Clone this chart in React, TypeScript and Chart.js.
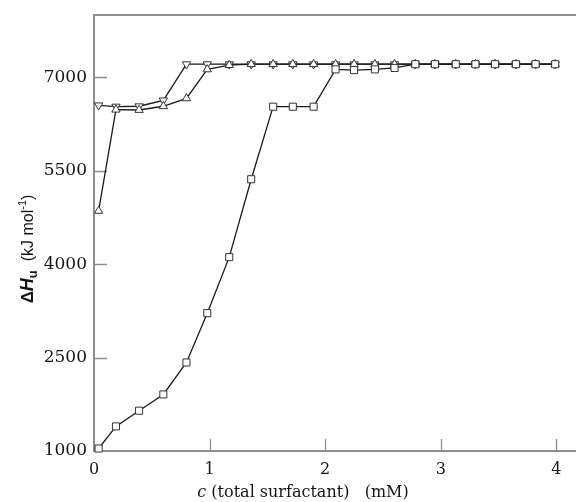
import React, { useEffect, useRef } from 'react';
import { Chart, registerables } from 'chart.js';

Chart.register(...registerables);

// concentration c (mM)
const cValues = [0.04, 0.19, 0.39, 0.6, 0.8, 0.98, 1.17, 1.36, 1.55, 1.72, 1.9, 2.09, 2.25, 2.43, 2.6, 2.78, 2.95, 3.13, 3.3, 3.47, 3.65, 3.82, 3.99];
// ΔHu (kJ/mol)
const squareValues = [1040, 1395, 1647, 1908, 2421, 3213, 4112, 5363, 6528, 6528, 6528, 7127, 7115, 7127, 7150, 7210, 7210, 7210, 7210, 7210, 7210, 7210, 7210];
const triUpValues = [4855, 6480, 6475, 6535, 6662, 7127, 7195, 7210, 7210, 7210, 7210, 7210, 7210, 7210, 7210, 7210, 7210, 7210, 7210, 7210, 7210, 7210, 7210];
const triDownValues = [6550, 6530, 6535, 6630, 7210, 7210, 7210, 7210, 7210, 7210, 7210, 7210, 7210, 7210, 7210, 7210, 7210, 7210, 7210, 7210, 7210, 7210, 7210];

const xTicks = [0, 1, 2, 3, 4];
const yTicks = [1000, 2500, 4000, 5500, 7000];

const frameColor = '#8e8e8e';
const lineColor = '#1a1a1a';
const textColor = '#151515';
const serif = '"DejaVu Serif", serif';
const sans = '"Liberation Sans", Arial, sans-serif';

const toPoints = (ys: number[]) => ys.map((y, i) => ({ x: cValues[i], y }));

const framePlugin = {
  id: 'frame',
  beforeDatasetsDraw(chart: any) {
    const { ctx, chartArea, scales } = chart;
    const { left, right, top, bottom } = chartArea;
    ctx.save();
    ctx.strokeStyle = frameColor;
    ctx.lineWidth = 2;
    ctx.beginPath();
    ctx.moveTo(right, top);
    ctx.lineTo(left, top);
    ctx.lineTo(left, bottom);
    ctx.lineTo(right, bottom);
    ctx.stroke();
    ctx.lineWidth = 1.3;
    ctx.beginPath();
    for (const v of yTicks) {
      const py = Math.round(scales.y.getPixelForValue(v)) + 0.5;
      if (Math.abs(py - bottom) < 2) continue;
      ctx.moveTo(left, py);
      ctx.lineTo(left + 13, py);
    }
    for (const v of xTicks) {
      const px = Math.round(scales.x.getPixelForValue(v)) + 0.5;
      if (Math.abs(px - left) < 2) continue;
      ctx.moveTo(px, bottom);
      ctx.lineTo(px, bottom - 12);
    }
    ctx.stroke();
    ctx.restore();
  },
  afterDraw(chart: any) {
    const { ctx, chartArea } = chart;
    ctx.save();
    ctx.fillStyle = textColor;
    ctx.textBaseline = 'alphabetic';
    ctx.textAlign = 'left';
    // x title
    const xSegs = [
      { t: 'c', f: `italic 16px ${serif}` },
      { t: ' (total surfactant)   (mM)', f: `16px ${serif}` },
    ];
    let w = 0;
    for (const s of xSegs) { ctx.font = s.f; w += ctx.measureText(s.t).width; }
    let x = chartArea.left + 209 - w / 2;
    for (const s of xSegs) { ctx.font = s.f; ctx.fillText(s.t, x, 497); x += ctx.measureText(s.t).width; }

    // y title (rotated)
    const ySegs = [
      { t: 'Δ', f: `bold 17px ${sans}`, dy: 0 },
      { t: 'H', f: `bold italic 18px ${sans}`, dy: 0 },
      { t: 'u', f: `bold 13px ${sans}`, dy: 4 },
      { t: '  (kJ mol', f: `16px ${sans}`, dy: 0 },
      { t: '-1', f: `11px ${sans}`, dy: -7 },
      { t: ')', f: `16px ${sans}`, dy: 0 },
    ];
    let tw = 0;
    for (const s of ySegs) { ctx.font = s.f; tw += ctx.measureText(s.t).width; }
    ctx.translate(33, 249);
    ctx.rotate(-Math.PI / 2);
    let px = -tw / 2;
    for (const s of ySegs) { ctx.font = s.f; ctx.fillText(s.t, px, s.dy); px += ctx.measureText(s.t).width; }
    ctx.restore();
  },
};

export default function App() {
  const canvasRef = useRef<HTMLCanvasElement | null>(null);

  useEffect(() => {
    if (!canvasRef.current) return;
    const mk = (label: string, ys: number[], style: string, rotation: number, radius: number) => ({
      label,
      data: toPoints(ys),
      borderColor: lineColor,
      borderWidth: 1.3,
      pointStyle: style,
      rotation,
      pointRadius: radius,
      pointBorderWidth: 1,
      pointBackgroundColor: '#ffffff',
      pointBorderColor: '#333333',
      showLine: true,
      tension: 0,
      clip: false,
    });
    const chart = new Chart(canvasRef.current, {
      type: 'scatter',
      data: {
        datasets: [
          mk('square', squareValues, 'rect', 0, 5),
          mk('triangle up', triUpValues, 'triangle', 0, 4.8),
          mk('triangle down', triDownValues, 'triangle', 180, 4.8),
        ] as any,
      },
      options: {
        animation: false,
        responsive: false,
        layout: { autoPadding: false, padding: { top: 15, left: 0, right: 0, bottom: 0 } },
        plugins: { legend: { display: false }, tooltip: { enabled: false }, title: { display: false } },
        scales: {
          x: {
            type: 'linear',
            min: 0,
            max: 4.17,
            grid: { display: false, drawTicks: false },
            border: { display: false },
            afterBuildTicks: (s: any) => { s.ticks = xTicks.map((v) => ({ value: v })); },
            afterFit: (s: any) => { s.height = 51; s.paddingLeft = 0; s.paddingRight = 0; },
            ticks: { color: textColor, font: { family: serif, size: 16 }, padding: 9, maxRotation: 0, autoSkip: false, callback: (v: any) => String(v) },
          },
          y: {
            type: 'linear',
            min: 1000,
            max: 8000,
            grid: { display: false, drawTicks: false },
            border: { display: false },
            afterBuildTicks: (s: any) => { s.ticks = yTicks.map((v) => ({ value: v })); },
            afterFit: (s: any) => { s.width = 94; s.paddingTop = 0; s.paddingBottom = 0; },
            ticks: { color: textColor, font: { family: serif, size: 17 }, padding: 7, autoSkip: false, callback: (v: any) => String(v) },
          },
        },
      } as any,
      plugins: [framePlugin],
    });
    return () => chart.destroy();
  }, []);

  return (
    <div style={{ position: 'absolute', left: 0, top: 0, width: 576, height: 502, background: '#fff' }}>
      <canvas ref={canvasRef} width={576} height={502} style={{ display: 'block' }} />
    </div>
  );
}
